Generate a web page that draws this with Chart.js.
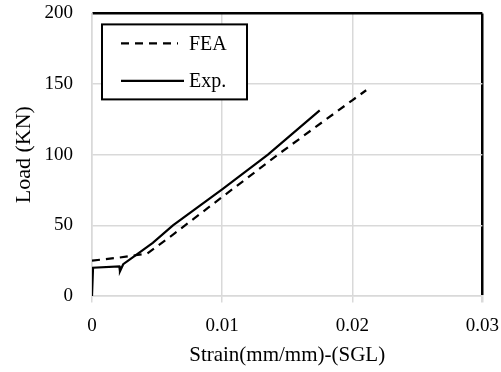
<!DOCTYPE html>
<html>
<head>
<meta charset="utf-8">
<script src="https://cdn.jsdelivr.net/npm/chart.js@4.4.1/dist/chart.umd.min.js"></script>
<style>
  html, body { margin: 0; padding: 0; background: #fff; }
</style>
</head>
<body>
<canvas id="loadChart" width="501" height="372"></canvas>
<script>
// values
var feaStrain = [0, 0.0021, 0.00425, 0.00635, 0.01, 0.01438, 0.02, 0.02107];
var feaLoad   = [25, 27.2, 30.1, 44.3, 70, 100.7, 138.5, 145.6];

var expStrain = [0, 0.00008, 0.0021, 0.00215, 0.0024, 0.00337, 0.00467, 0.00622, 0.01, 0.01352, 0.0175];
var expLoad   = [0, 20, 21, 17.5, 22.5, 29, 37.6, 50, 75.5, 100, 131.4];

var xTicks = [0, 0.01, 0.02, 0.03];
var xTickLabels = ['0', '0.01', '0.02', '0.03'];
var yTicks = [0, 50, 100, 150, 200];
var yTickLabels = ['0', '50', '100', '150', '200'];

function toPoints(xs, ys) {
  return xs.map(function (x, i) { return { x: x, y: ys[i] }; });
}

var gridGray = '#d9d9d9';
var serif = "'Liberation Serif', 'Times New Roman', serif";

// legend box drawn inside the plot, top left
var boxLegend = {
  id: 'boxLegend',
  afterDraw: function (chart) {
    var ctx = chart.ctx;
    var a = chart.chartArea;
    var x0 = a.left + 10, y0 = a.top + 11, w = 145, h = 75;
    ctx.save();
    ctx.fillStyle = '#fff';
    ctx.fillRect(x0, y0, w, h);
    ctx.strokeStyle = '#000';
    ctx.lineWidth = 2;
    ctx.strokeRect(x0, y0, w, h);
    ctx.font = '20px ' + serif;
    ctx.textBaseline = 'middle';
    ctx.fillStyle = '#000';
    chart.data.datasets.forEach(function (ds, i) {
      var ly = y0 + 19 + i * 37.5;
      ctx.beginPath();
      ctx.setLineDash(ds.borderDash || []);
      ctx.lineWidth = ds.borderWidth;
      ctx.strokeStyle = ds.borderColor;
      ctx.moveTo(x0 + 19, ly);
      ctx.lineTo(x0 + (ds.borderDash && ds.borderDash.length ? 76 : 82), ly);
      ctx.stroke();
      ctx.setLineDash([]);
      ctx.fillText(ds.label, x0 + 87, ly + 1);
    });
    ctx.restore();
  }
};

var ctx = document.getElementById('loadChart').getContext('2d');
var myChart = new Chart(ctx, {
  type: 'line',
  data: {
    datasets: [{
      label: 'FEA',
      data: toPoints(feaStrain, feaLoad),
      borderColor: '#000',
      borderWidth: 2.2,
      borderDash: [8, 6],
      pointRadius: 0,
      tension: 0,
      fill: false
    }, {
      label: 'Exp.',
      data: toPoints(expStrain, expLoad),
      borderColor: '#000',
      borderWidth: 2.2,
      borderDash: [],
      pointRadius: 0,
      tension: 0,
      fill: false
    }]
  },
  options: {
    responsive: false,
    animation: false,
    layout: { padding: 0 },
    plugins: {
      legend: { display: false },
      tooltip: { enabled: false }
    },
    scales: {
      x: {
        type: 'linear',
        min: 0,
        max: 0.03,
        afterBuildTicks: function (s) { s.ticks = xTicks.map(function (v) { return { value: v }; }); },
        afterFit: function (s) { s.height = 76; },
        ticks: {
          callback: function (v, i) { return xTickLabels[i]; },
          color: '#000',
          font: { family: serif, size: 19 },
          padding: 2,
          maxRotation: 0
        },
        grid: {
          color: function (c) { return c.tick && c.tick.value === 0.03 ? '#000' : gridGray; },
          lineWidth: function (c) { return c.tick && c.tick.value === 0.03 ? 2.5 : 1.5; },
          tickColor: gridGray,
          tickLength: 17,
          tickBorderDash: [6, 40]
        },
        border: { color: gridGray, width: 1.5 },
        title: {
          display: true,
          text: 'Strain(mm/mm)-(SGL)',
          color: '#000',
          font: { family: serif, size: 21 },
          padding: { top: 0, bottom: 4 }
        }
      },
      y: {
        min: 0,
        max: 200,
        afterBuildTicks: function (s) { s.ticks = yTicks.map(function (v) { return { value: v }; }); },
        afterFit: function (s) { s.width = 92; },
        ticks: {
          callback: function (v, i) { return yTickLabels[i]; },
          color: '#000',
          font: { family: serif, size: 19 },
          padding: 2
        },
        grid: {
          color: function (c) { return c.tick && c.tick.value === 200 ? '#000' : gridGray; },
          lineWidth: function (c) { return c.tick && c.tick.value === 200 ? 2.5 : 1.5; },
          tickColor: 'rgba(0,0,0,0)',
          tickLength: 17
        },
        border: { color: gridGray, width: 1.5 },
        title: {
          display: true,
          text: 'Load (KN)',
          color: '#000',
          font: { family: serif, size: 22 },
          padding: { top: 11, bottom: 0 }
        }
      }
    }
  },
  plugins: [boxLegend]
});
</script>
</body>
</html>
